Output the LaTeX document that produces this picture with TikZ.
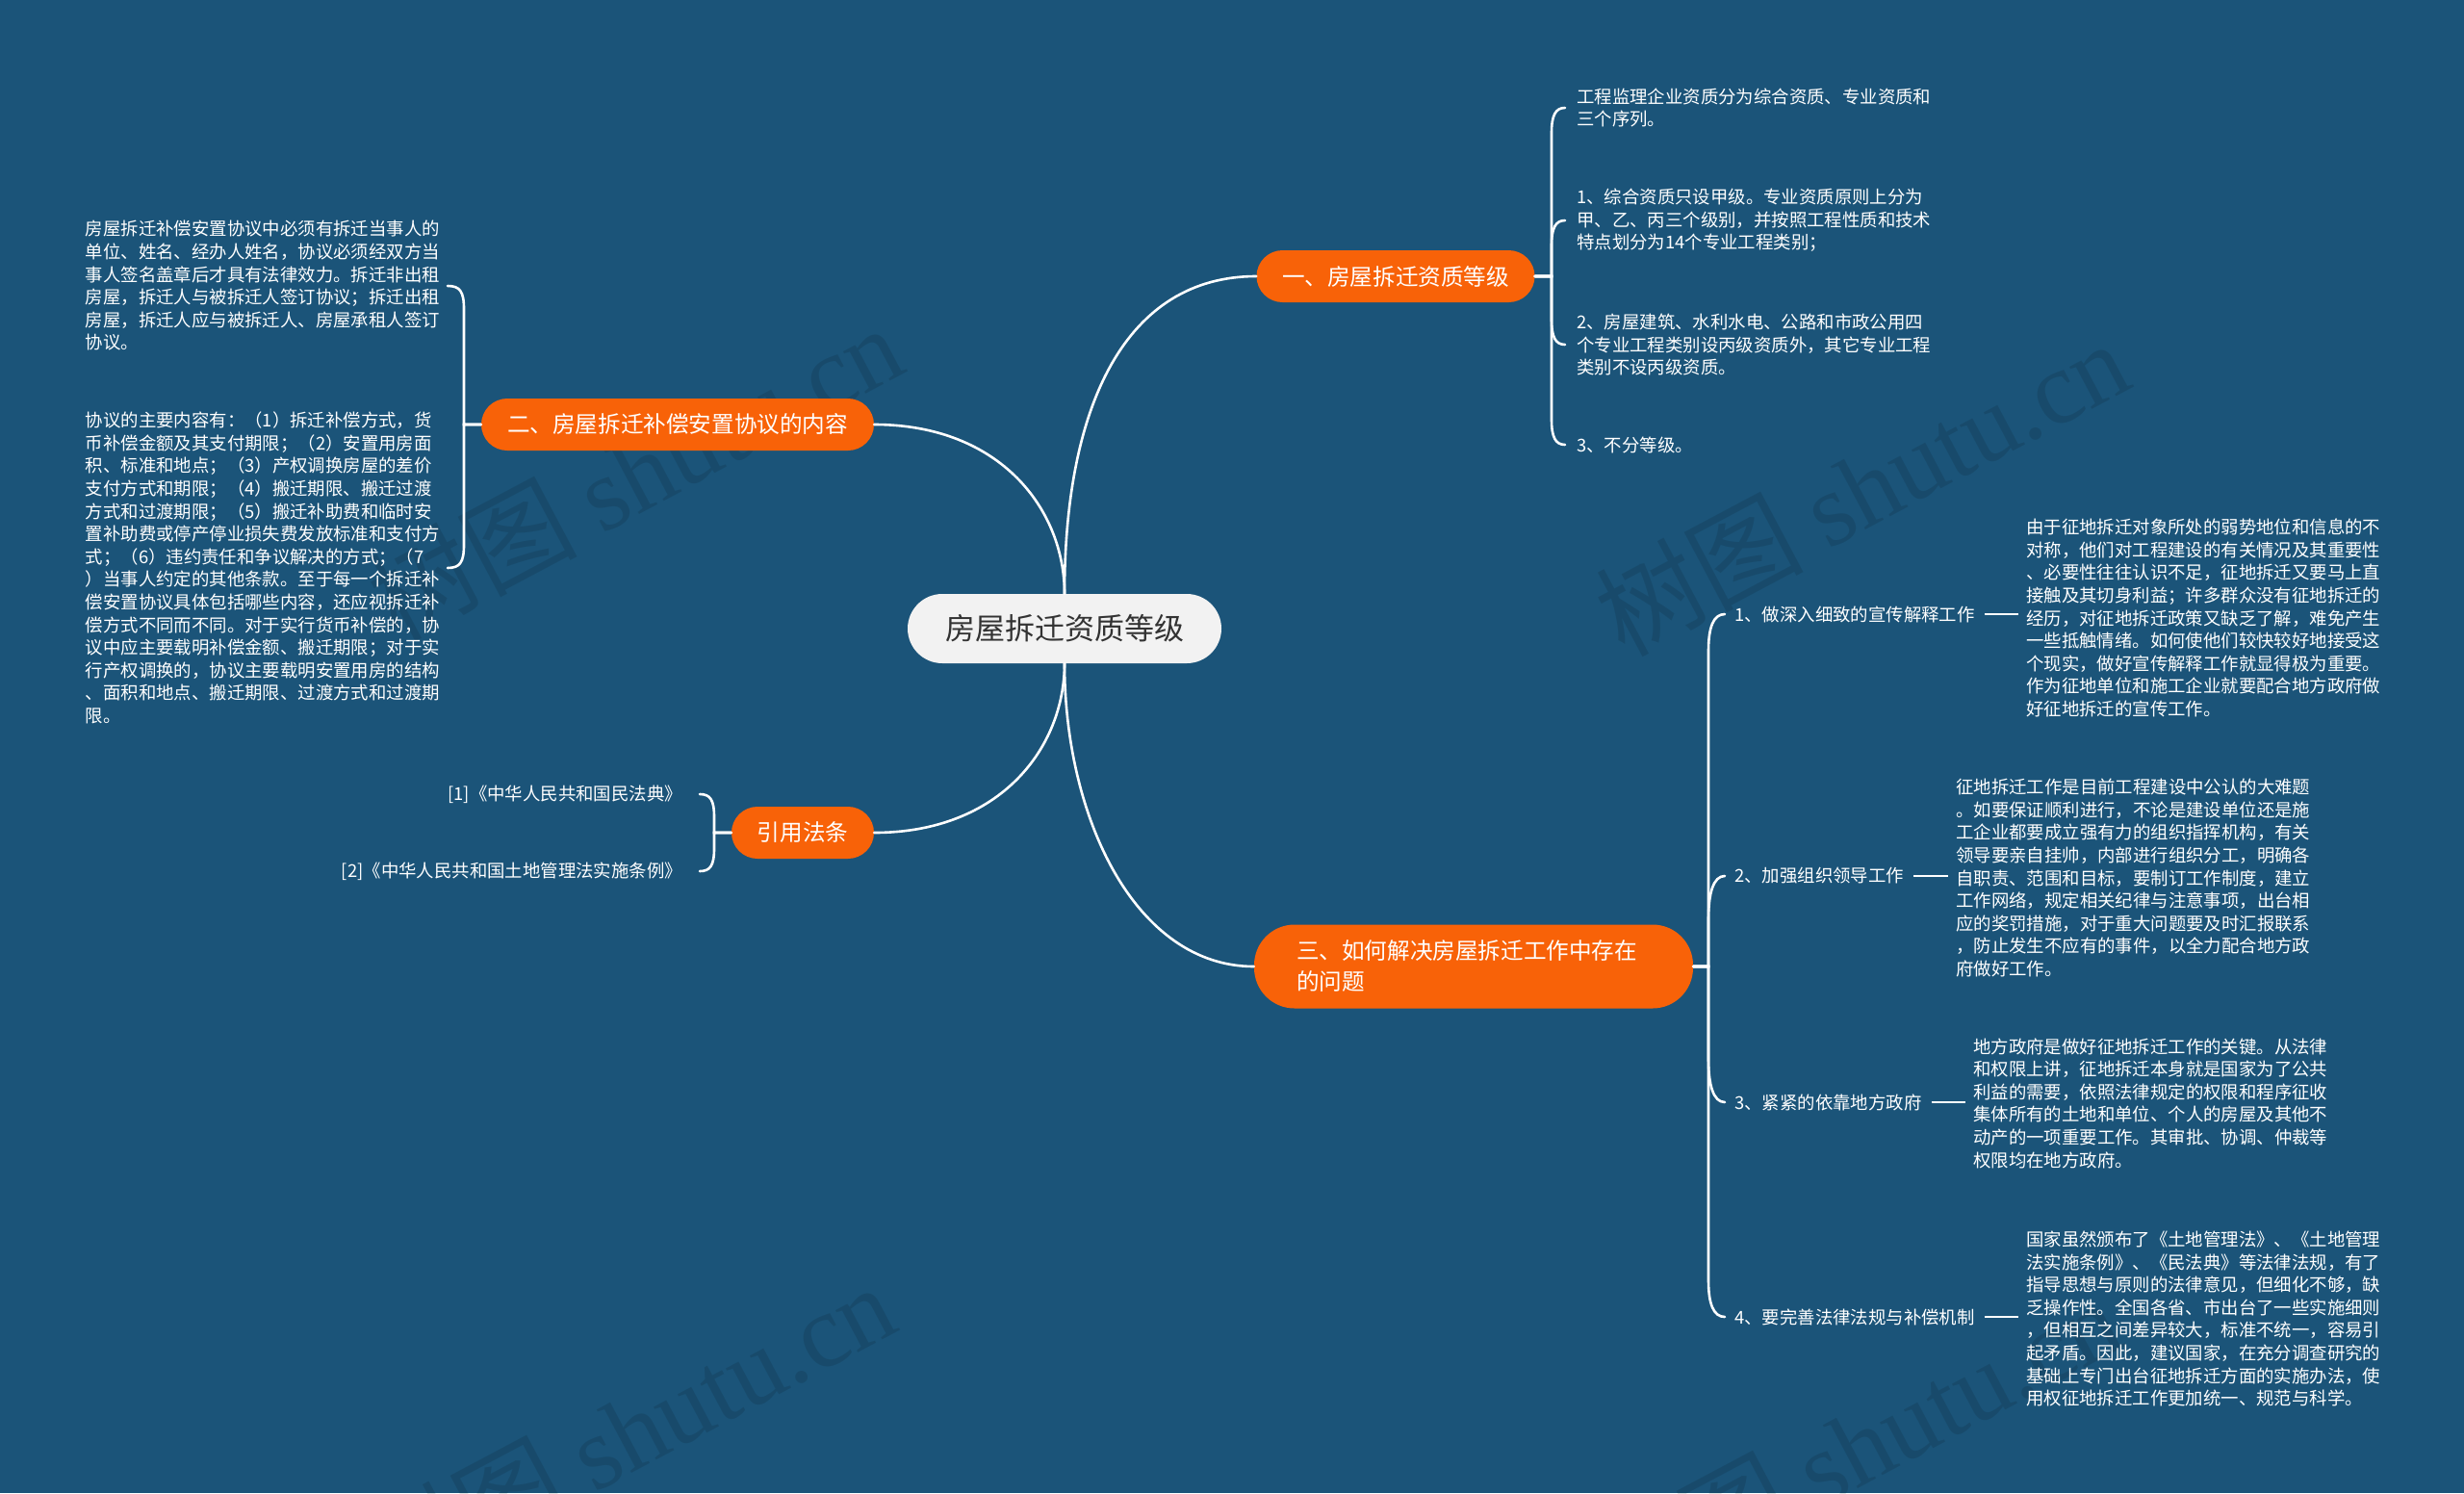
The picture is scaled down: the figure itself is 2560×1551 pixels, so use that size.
\documentclass[tikz,border=0pt]{standalone}
\usepackage{fontspec}
\setmainfont{Noto Sans CJK SC}
\newfontfamily\wmfont{Liberation Serif}
\definecolor{bg}{HTML}{1B5479}
\definecolor{orng}{HTML}{F86208}
\definecolor{rootfill}{HTML}{F2F2F2}
\definecolor{roottext}{HTML}{333333}
\begin{document}
\begin{tikzpicture}[x=1pt,y=-1pt,
  conn/.style={draw=white,line width=2.6pt,line cap=round},
  rootbox/.style={fill=rootfill,text=roottext,rounded corners=36pt,minimum height=72pt,inner sep=0pt,font=\fontsize{31}{36}\selectfont},
  branch/.style={fill=orng,text=white,rounded corners=27pt,minimum height=54pt,inner sep=0pt,font=\fontsize{23.6}{32}\selectfont},
  leaf/.style={text=white,font=\fontsize{18.4}{23.6}\selectfont,inner ysep=0pt},
  wm/.style={text=black,opacity=0.11,rotate=28,font=\fontsize{108}{110}\selectfont}
]
\useasboundingbox (0,0) rectangle (2560,1551);
\fill[bg] (0,0) rectangle (2560,1551);

% watermarks
\node[wm] (w1) at (660,490) {树图 {\wmfont shutu.cn}};
\node[wm] (w2) at (1934,506) {树图 {\wmfont shutu.cn}};
\node[wm] (w3) at (652,1486) {树图 {\wmfont shutu.cn}};
\node[wm] (w4) at (1926,1502) {树图 {\wmfont shutu.cn}};

% root and branches
\node[rootbox,minimum width=326pt] (c) at (1106,653) {房屋拆迁资质等级};
\node[branch,minimum width=289pt] (b1) at (1450,287) {一、房屋拆迁资质等级};
\node[branch,minimum width=408pt] (b2) at (704,441) {二、房屋拆迁补偿安置协议的内容};
\node[branch,minimum width=148pt] (b4) at (834,865) {引用法条};
\node[branch,rounded corners=42pt,minimum height=87pt,text width=368pt,inner xsep=44pt,align=left] (b3) at (1531,1004) {三、如何解决房屋拆迁工作中存在\\的问题};

% root connectors
\draw[conn] (c.north) .. controls (1106,420) and (1170,287) .. (b1.west);
\draw[conn] (b2.east) .. controls (1040,441) and (1106,530) .. (c.north);
\draw[conn] (b4.east) .. controls (1040,865) and (1106,776) .. (c.south);
\draw[conn] (c.south) .. controls (1106,850) and (1180,1004) .. (b3.west);

% branch 1 leaves
\node[leaf,align=left,anchor=west,inner xsep=12pt] (l11) at (1626,112) {工程监理企业资质分为综合资质、专业资质和\\三个序列。};
\node[leaf,align=left,anchor=west,inner xsep=12pt] (l12) at (1626,229) {1、综合资质只设甲级。专业资质原则上分为\\甲、乙、丙三个级别，并按照工程性质和技术\\特点划分为14个专业工程类别；};
\node[leaf,align=left,anchor=west,inner xsep=12pt] (l13) at (1626,358) {2、房屋建筑、水利水电、公路和市政公用四\\个专业工程类别设丙级资质外，其它专业工程\\类别不设丙级资质。};
\node[leaf,align=left,anchor=west,inner xsep=12pt] (l14) at (1626,462) {3、不分等级。};
\draw[conn] (b1.east) -- (1612,287) -- (1612,138) .. controls (1612,120) and (1616,112) .. (l11.west);
\draw[conn] (b1.east) -- (1612,287) -- (1612,255) .. controls (1612,237) and (1616,229) .. (l12.west);
\draw[conn] (b1.east) -- (1612,287) -- (1612,332) .. controls (1612,350) and (1616,358) .. (l13.west);
\draw[conn] (b1.east) -- (1612,287) -- (1612,436) .. controls (1612,454) and (1616,462) .. (l14.west);

% branch 2 leaves
\node[leaf,align=left,anchor=east,inner xsep=8pt] (l21) at (465,297) {房屋拆迁补偿安置协议中必须有拆迁当事人的\\单位、姓名、经办人姓名，协议必须经双方当\\事人签名盖章后才具有法律效力。拆迁非出租\\房屋，拆迁人与被拆迁人签订协议；拆迁出租\\房屋，拆迁人应与被拆迁人、房屋承租人签订\\协议。};
\node[leaf,align=left,anchor=east,inner xsep=8pt] (l22) at (465,590) {协议的主要内容有：（1）拆迁补偿方式，货\\币补偿金额及其支付期限；（2）安置用房面\\积、标准和地点；（3）产权调换房屋的差价\\支付方式和期限；（4）搬迁期限、搬迁过渡\\方式和过渡期限；（5）搬迁补助费和临时安\\置补助费或停产停业损失费发放标准和支付方\\式；（6）违约责任和争议解决的方式；（7\\）当事人约定的其他条款。至于每一个拆迁补\\偿安置协议具体包括哪些内容，还应视拆迁补\\偿方式不同而不同。对于实行货币补偿的，协\\议中应主要载明补偿金额、搬迁期限；对于实\\行产权调换的，协议主要载明安置用房的结构\\、面积和地点、搬迁期限、过渡方式和过渡期\\限。};
\draw[conn] (b2.west) -- (482,441) -- (482,321) .. controls (482,303) and (478,297) .. (l21.east);
\draw[conn] (b2.west) -- (482,441) -- (482,566) .. controls (482,584) and (478,590) .. (l22.east);

% branch 4 leaves
\node[leaf,align=right,anchor=east,inner xsep=18pt] (l41) at (727,825) {[1]《中华人民共和国民法典》};
\node[leaf,align=right,anchor=east,inner xsep=18pt] (l42) at (727,905) {[2]《中华人民共和国土地管理法实施条例》};
\draw[conn] (b4.west) -- (742,865) -- (742,849) .. controls (742,831) and (738,825) .. (l41.east);
\draw[conn] (b4.west) -- (742,865) -- (742,881) .. controls (742,899) and (738,905) .. (l42.east);

% branch 3 labels
\node[leaf,anchor=west,inner xsep=10pt] (t1) at (1792,638) {1、做深入细致的宣传解释工作};
\node[leaf,anchor=west,inner xsep=10pt] (t2) at (1792,910) {2、加强组织领导工作};
\node[leaf,anchor=west,inner xsep=10pt] (t3) at (1792,1145) {3、紧紧的依靠地方政府};
\node[leaf,anchor=west,inner xsep=10pt] (t4) at (1792,1368) {4、要完善法律法规与补偿机制};
\draw[conn] (b3.east) -- (1775,1004) -- (1775,676) .. controls (1775,652) and (1780,638) .. (t1.west);
\draw[conn] (b3.east) -- (1775,1004) -- (1775,955) .. controls (1775,928) and (1780,910) .. (t2.west);
\draw[conn] (b3.east) -- (1775,1004) -- (1775,1100) .. controls (1775,1127) and (1780,1145) .. (t3.west);
\draw[conn] (b3.east) -- (1775,1004) -- (1775,1330) .. controls (1775,1354) and (1780,1368) .. (t4.west);

% branch 3 details
\node[leaf,align=left,anchor=west,inner xsep=8pt] (d1) at (2097,642) {由于征地拆迁对象所处的弱势地位和信息的不\\对称，他们对工程建设的有关情况及其重要性\\、必要性往往认识不足，征地拆迁又要马上直\\接触及其切身利益；许多群众没有征地拆迁的\\经历，对征地拆迁政策又缺乏了解，难免产生\\一些抵触情绪。如何使他们较快较好地接受这\\个现实，做好宣传解释工作就显得极为重要。\\作为征地单位和施工企业就要配合地方政府做\\好征地拆迁的宣传工作。};
\node[leaf,align=left,anchor=west,inner xsep=8pt] (d2) at (2024,912) {征地拆迁工作是目前工程建设中公认的大难题\\。如要保证顺利进行，不论是建设单位还是施\\工企业都要成立强有力的组织指挥机构，有关\\领导要亲自挂帅，内部进行组织分工，明确各\\自职责、范围和目标，要制订工作制度，建立\\工作网络，规定相关纪律与注意事项，出台相\\应的奖罚措施，对于重大问题要及时汇报联系\\，防止发生不应有的事件，以全力配合地方政\\府做好工作。};
\node[leaf,align=left,anchor=west,inner xsep=8pt] (d3) at (2042,1146) {地方政府是做好征地拆迁工作的关键。从法律\\和权限上讲，征地拆迁本身就是国家为了公共\\利益的需要，依照法律规定的权限和程序征收\\集体所有的土地和单位、个人的房屋及其他不\\动产的一项重要工作。其审批、协调、仲裁等\\权限均在地方政府。};
\node[leaf,align=left,anchor=west,inner xsep=8pt] (d4) at (2097,1370) {国家虽然颁布了《土地管理法》、《土地管理\\法实施条例》、《民法典》等法律法规，有了\\指导思想与原则的法律意见，但细化不够，缺\\乏操作性。全国各省、市出台了一些实施细则\\，但相互之间差异较大，标准不统一，容易引\\起矛盾。因此，建议国家，在充分调查研究的\\基础上专门出台征地拆迁方面的实施办法，使\\用权征地拆迁工作更加统一、规范与科学。};
\draw[white,line width=2pt] (t1.east) -- (t1.east -| d1.west);
\draw[white,line width=2pt] (t2.east) -- (t2.east -| d2.west);
\draw[white,line width=2pt] (t3.east) -- (t3.east -| d3.west);
\draw[white,line width=2pt] (t4.east) -- (t4.east -| d4.west);
\end{tikzpicture}
\end{document}
